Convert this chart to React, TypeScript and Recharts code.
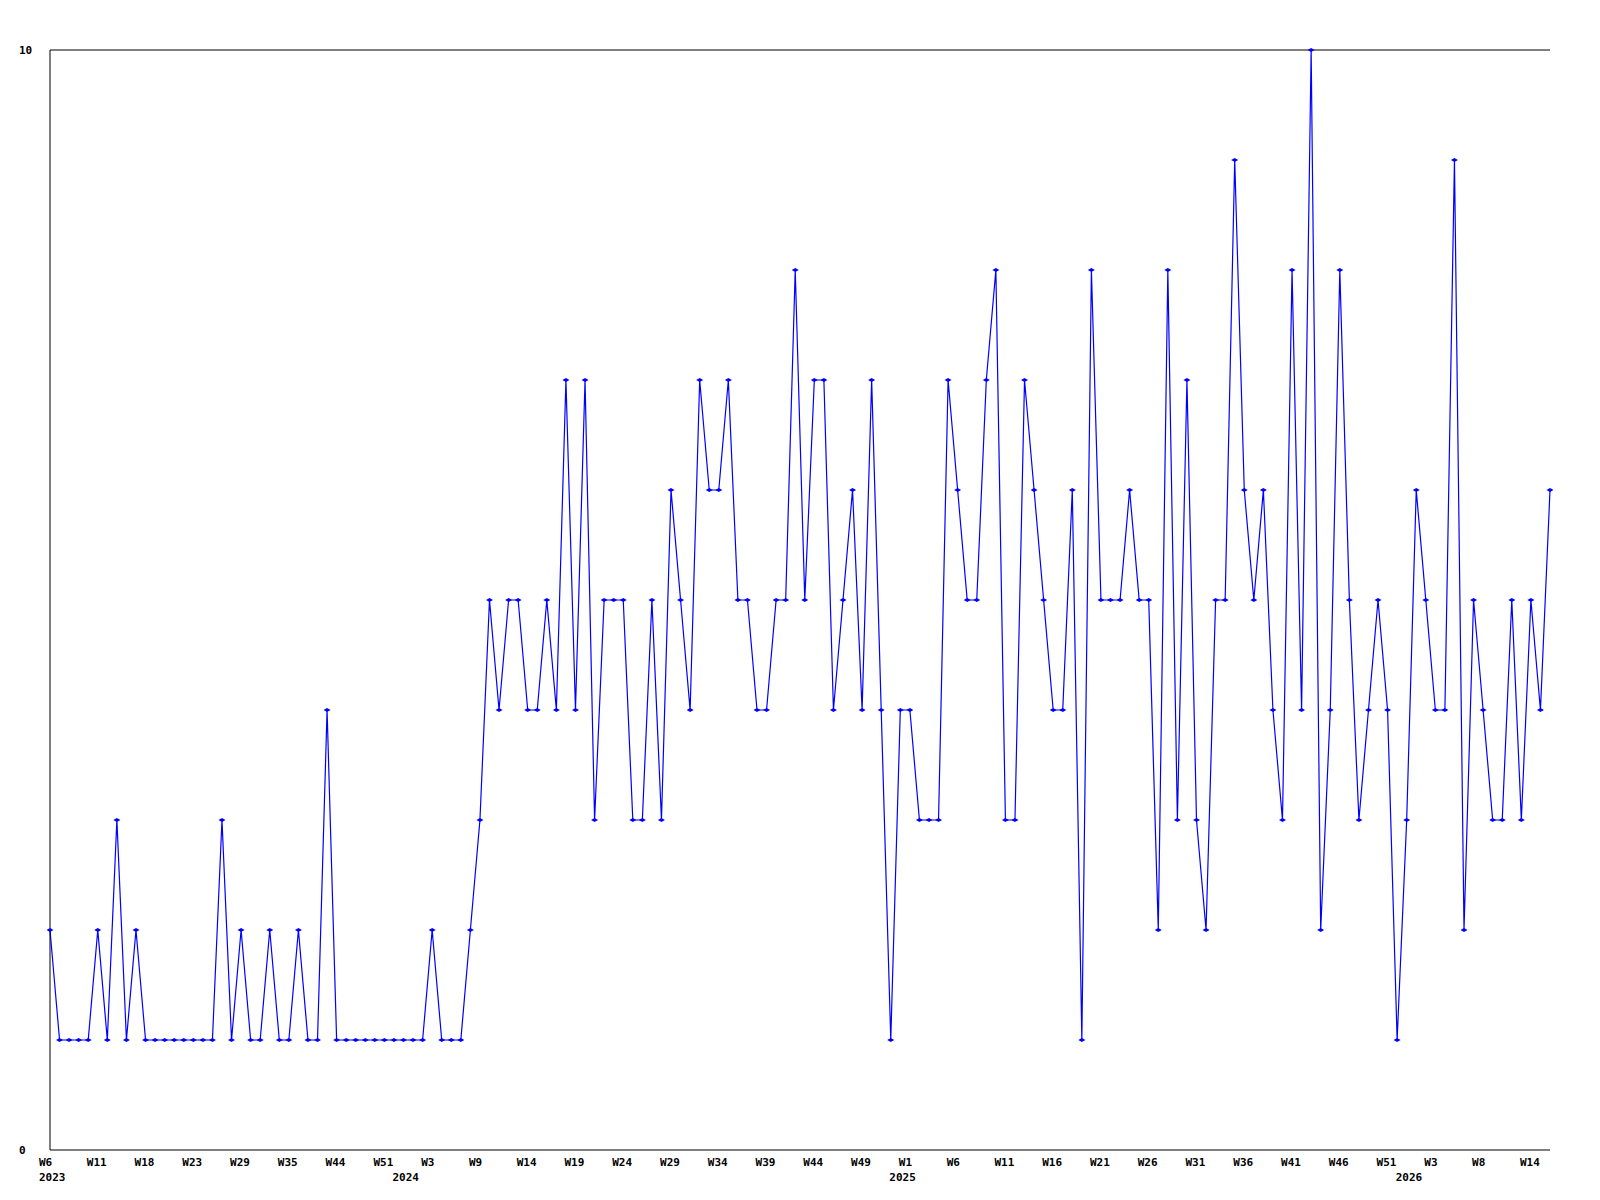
import { LineChart, Line, XAxis, YAxis, ReferenceLine } from "recharts";

// weekly counts, one point per week
const counts = [
  2, 1, 1, 1, 1, 2, 1, 3, 1, 2,
  1, 1, 1, 1, 1, 1, 1, 1, 3, 1,
  2, 1, 1, 2, 1, 1, 2, 1, 1, 4,
  1, 1, 1, 1, 1, 1, 1, 1, 1, 1,
  2, 1, 1, 1, 2, 3, 5, 4, 5, 5,
  4, 4, 5, 4, 7, 4, 7, 3, 5, 5,
  5, 3, 3, 5, 3, 6, 5, 4, 7, 6,
  6, 7, 5, 5, 4, 4, 5, 5, 8, 5,
  7, 7, 4, 5, 6, 4, 7, 4, 1, 4,
  4, 3, 3, 3, 7, 6, 5, 5, 7, 8,
  3, 3, 7, 6, 5, 4, 4, 6, 1, 8,
  5, 5, 5, 6, 5, 5, 2, 8, 3, 7,
  3, 2, 5, 5, 9, 6, 5, 6, 4, 3,
  8, 4, 10, 2, 4, 8, 5, 3, 4, 5,
  4, 1, 3, 6, 5, 4, 4, 9, 2, 5,
  4, 3, 3, 5, 3, 5, 4, 6,
];

// a week label on every 5th point
const weekLabels = [
  "W6", "W11", "W18", "W23", "W29", "W35", "W44", "W51", "W3", "W9", "W14",
  "W19", "W24", "W29", "W34", "W39", "W44", "W49", "W1", "W6", "W11", "W16",
  "W21", "W26", "W31", "W36", "W41", "W46", "W51", "W3", "W8", "W14",
];
const weekStep = 5;

const years = ["2023", "2024", "2025", "2026"];
const yearStartIdx = [0, 37, 89, 142];

const yTicks = [0, 10];

const data = counts.map((v, i) => ({ i, v }));
const weekTickIdx = weekLabels.map((_, k) => k * weekStep);
const allTicks = Array.from(new Set([...weekTickIdx, ...yearStartIdx])).sort((a, b) => a - b);

const FONT = "'DejaVu Sans Mono', monospace";

function WeekTick(props: any) {
  const { x, y, payload } = props;
  const idx = payload.value;
  const w = idx % weekStep === 0 ? weekLabels[idx / weekStep] : null;
  const yi = yearStartIdx.indexOf(idx);
  return (
    <g>
      {w && (
        <text x={x - 11} y={y + 16} textAnchor="start" fontFamily={FONT} fontWeight="bold" fontSize={11} fill="#000">
          {w}
        </text>
      )}
      {yi >= 0 && (
        <text x={x - 11} y={y + 31} textAnchor="start" fontFamily={FONT} fontWeight="bold" fontSize={11} fill="#000">
          {years[yi]}
        </text>
      )}
    </g>
  );
}

function CountTick(props: any) {
  const { y, payload } = props;
  return (
    <text x={19} y={y + 4} textAnchor="start" fontFamily={FONT} fontWeight="bold" fontSize={11} fill="#000">
      {payload.value}
    </text>
  );
}

function Marker(props: any) {
  const { cx, cy } = props;
  if (cx == null || cy == null) return null;
  return <path d={`M${cx - 3.5},${cy} L${cx},${cy - 2} L${cx + 3.5},${cy} L${cx},${cy + 2} Z`} fill="#0000ff" />;
}

export default function App() {
  return (
    <div style={{ position: "absolute", left: 0, top: 0, width: 1600, height: 1200, background: "#fff" }}>
      <LineChart width={1600} height={1200} data={data} margin={{ top: 50, right: 50, bottom: 0, left: 19 }}>
        <XAxis
          dataKey="i"
          type="number"
          domain={[0, counts.length - 1]}
          ticks={allTicks}
          interval={0}
          height={50}
          tickLine={false}
          tickSize={0}
          tickMargin={0}
          axisLine={{ stroke: "#000", strokeWidth: 1 }}
          tick={<WeekTick />}
        />
        <YAxis
          domain={[0, 10]}
          ticks={yTicks}
          width={31}
          tickLine={false}
          tickSize={0}
          axisLine={{ stroke: "#000", strokeWidth: 1 }}
          tick={<CountTick />}
        />
        <ReferenceLine y={10} stroke="#000" strokeWidth={1} />
        <Line
          dataKey="v"
          stroke="#0000ff"
          strokeWidth={1.2}
          dot={<Marker />}
          activeDot={false}
          isAnimationActive={false}
        />
      </LineChart>
    </div>
  );
}
